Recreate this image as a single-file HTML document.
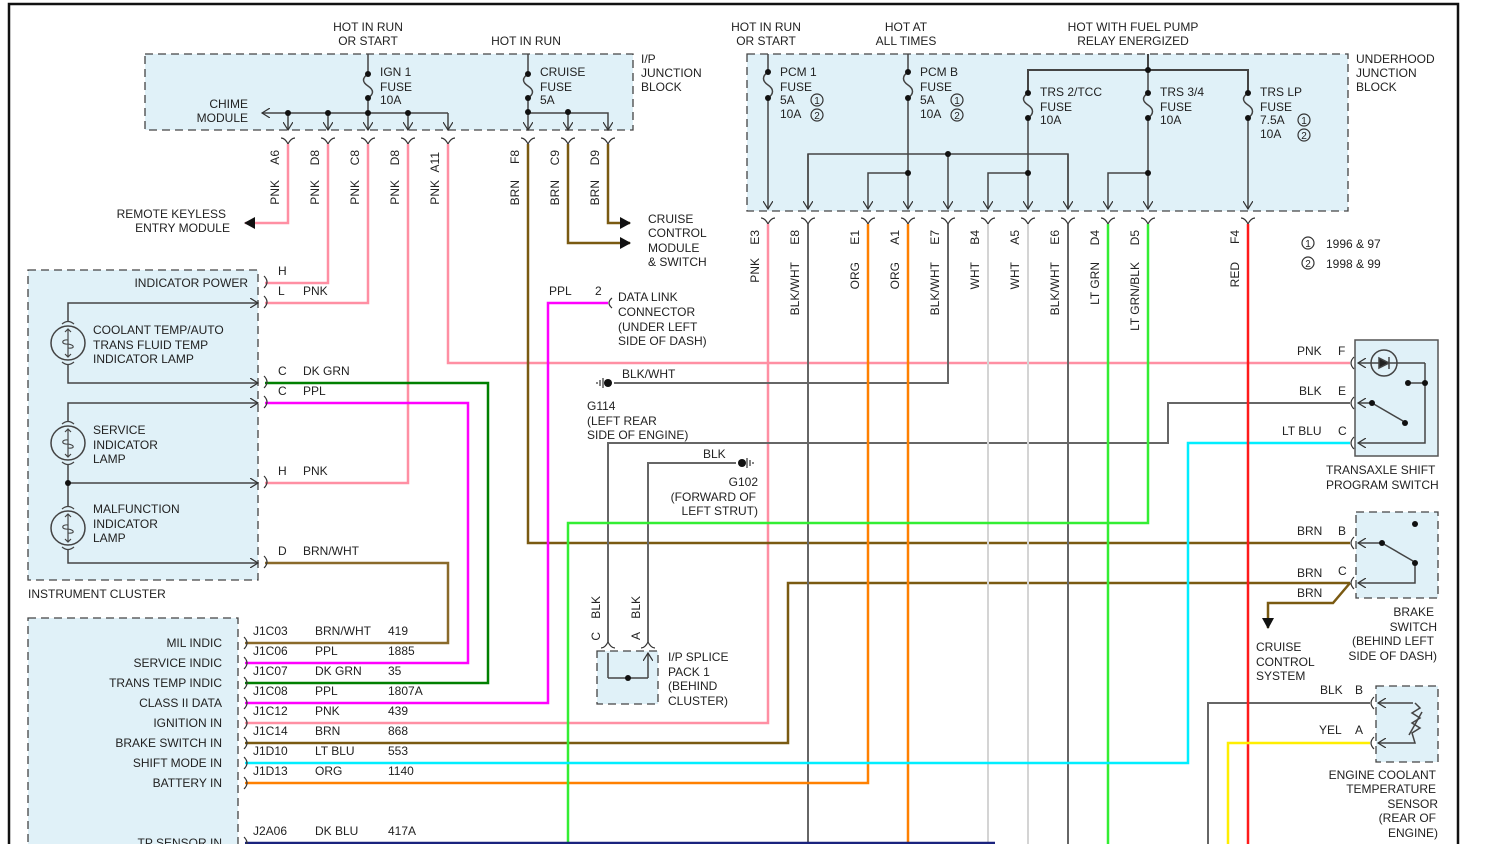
<!DOCTYPE html>
<html><head><meta charset="utf-8"><style>
html,body{margin:0;padding:0;background:#fff}
svg{display:block}
text{font-family:"Liberation Sans",sans-serif;font-size:12px;fill:#222}
.w{fill:none;stroke-width:2.5}
.k{fill:none;stroke:#444;stroke-width:1.5}
.box{fill:#e0f1f8;stroke:#444;stroke-width:1.3;stroke-dasharray:8,5}
.c{fill:none;stroke:#333;stroke-width:1.2}
</style></head><body>
<svg width="1498" height="844" viewBox="0 0 1498 844" xmlns="http://www.w3.org/2000/svg">
<defs>
<marker id="a" markerWidth="10" markerHeight="10" refX="8" refY="5" orient="auto" markerUnits="userSpaceOnUse"><path d="M0,0 L8,5 L0,10" fill="none" stroke="#333" stroke-width="1.2"/></marker>
<marker id="f" markerWidth="14" markerHeight="14" refX="10" refY="6" orient="auto" markerUnits="userSpaceOnUse"><path d="M0,0 L11,6 L0,12Z" fill="#111"/></marker>
</defs>
<path d="M9,844 V4 H1458 V844" fill="none" stroke="#111" stroke-width="2.5"/>

<rect class="box" x="145" y="54" width="488" height="76"/>
<rect class="box" x="747" y="54" width="601" height="157"/>
<rect class="box" x="28" y="270" width="230" height="310"/>
<rect class="box" x="28" y="618" width="210" height="240"/>
<rect class="box" x="597" y="651" width="61" height="53"/>
<rect x="1355" y="340" width="83" height="116" fill="#e0f1f8" stroke="#555" stroke-width="1.5"/>
<rect class="box" x="1356" y="512" width="82" height="86"/>
<rect class="box" x="1376" y="686" width="62" height="76"/>

<g text-anchor="middle">
<text x="368" y="31">HOT IN RUN</text><text x="368" y="45">OR START</text>
<text x="526" y="45">HOT IN RUN</text>
<text x="766" y="31">HOT IN RUN</text><text x="766" y="45">OR START</text>
<text x="906" y="31">HOT AT</text><text x="906" y="45">ALL TIMES</text>
<text x="1133" y="31">HOT WITH FUEL PUMP</text><text x="1133" y="45">RELAY ENERGIZED</text>
</g>
<text x="641" y="63">I/P</text><text x="641" y="77">JUNCTION</text><text x="641" y="91">BLOCK</text>
<text x="1356" y="63">UNDERHOOD</text><text x="1356" y="77">JUNCTION</text><text x="1356" y="91">BLOCK</text>

<g class="k">
<path d="M368,54 V74 M368,98 V130" marker-end="url(#a)"/>
<path d="M368,74 c-6,4 -6,8 0,12 c6,4 6,8 0,12"/>
<path d="M448,113 H262" marker-end="url(#a)"/>
<path d="M448,113 V130" marker-end="url(#a)"/>
<path d="M288,113 V130" marker-end="url(#a)"/>
<path d="M328,113 V130" marker-end="url(#a)"/>
<path d="M408,113 V130" marker-end="url(#a)"/>
<path d="M528,54 V74 M528,98 V130" marker-end="url(#a)"/>
<path d="M528,74 c-6,4 -6,8 0,12 c6,4 6,8 0,12"/>
<path d="M528,113 H608 V130" marker-end="url(#a)"/>
<path d="M568,113 V130" marker-end="url(#a)"/>
</g>
<g fill="#111"><circle cx="368" cy="74" r="3"/><circle cx="368" cy="98" r="3"/><circle cx="288" cy="113" r="3"/><circle cx="328" cy="113" r="3"/><circle cx="368" cy="113" r="3"/><circle cx="408" cy="113" r="3"/>
<circle cx="528" cy="74" r="3"/><circle cx="528" cy="98" r="3"/><circle cx="528" cy="112" r="3"/><circle cx="568" cy="112" r="3"/></g>
<text x="380" y="76">IGN 1</text><text x="380" y="91">FUSE</text><text x="380" y="104">10A</text>
<text x="540" y="76">CRUISE</text><text x="540" y="91">FUSE</text><text x="540" y="104">5A</text>
<text x="248" y="108" text-anchor="end">CHIME</text><text x="248" y="122" text-anchor="end">MODULE</text>

<g class="k">
<path d="M768,54 V72 M768,98 V209" marker-end="url(#a)"/>
<path d="M768,72 c-6,4 -6,9 0,13 c6,4 6,9 0,13"/>
<path d="M908,54 V72 M908,98 V209" marker-end="url(#a)"/>
<path d="M908,72 c-6,4 -6,9 0,13 c6,4 6,9 0,13"/>
<path d="M1148,54 V70 M1028,93 V70 H1248 V93" stroke-width="2"/>
<path d="M1028,93 c-6,4 -6,8 0,12 c6,4 6,9 0,13 M1148,93 c-6,4 -6,8 0,12 c6,4 6,9 0,13 M1248,93 c-6,4 -6,8 0,12 c6,4 6,9 0,13"/>
<path d="M1148,70 V93 M1028,118 V209" marker-end="url(#a)"/>
<path d="M1148,118 V209" marker-end="url(#a)"/>
<path d="M1248,118 V209" marker-end="url(#a)"/>
<path d="M808,209 V154 H1068 V209" />
<path d="M808,154 V209" marker-end="url(#a)"/>
<path d="M1068,154 V209" marker-end="url(#a)"/>
<path d="M948,154 V209" marker-end="url(#a)"/>
<path d="M908,173 H868 V209" marker-end="url(#a)"/>
<path d="M1028,173 H988 V209" marker-end="url(#a)"/>
<path d="M1148,173 H1108 V209" marker-end="url(#a)"/>
</g>
<g fill="#111"><circle cx="768" cy="72" r="3"/><circle cx="768" cy="98" r="3"/><circle cx="908" cy="72" r="3"/><circle cx="908" cy="98" r="3"/>
<circle cx="1028" cy="93" r="3"/><circle cx="1028" cy="118" r="3"/><circle cx="1148" cy="93" r="3"/><circle cx="1148" cy="118" r="3"/><circle cx="1248" cy="93" r="3"/><circle cx="1248" cy="118" r="3"/>
<circle cx="1148" cy="70" r="3"/><circle cx="948" cy="154" r="3"/><circle cx="908" cy="173" r="3"/><circle cx="1028" cy="173" r="3"/><circle cx="1148" cy="173" r="3"/></g>
<text x="780" y="76">PCM 1</text><text x="780" y="91">FUSE</text><text x="780" y="104">5A</text><text x="780" y="118">10A</text>
<text x="920" y="76">PCM B</text><text x="920" y="91">FUSE</text><text x="920" y="104">5A</text><text x="920" y="118">10A</text>
<text x="1040" y="96">TRS 2/TCC</text><text x="1040" y="111">FUSE</text><text x="1040" y="124">10A</text>
<text x="1160" y="96">TRS 3/4</text><text x="1160" y="111">FUSE</text><text x="1160" y="124">10A</text>
<text x="1260" y="96">TRS LP</text><text x="1260" y="111">FUSE</text><text x="1260" y="124">7.5A</text><text x="1260" y="138">10A</text>
<g class="c"><circle cx="817" cy="100" r="6"/><circle cx="817" cy="115" r="6"/><circle cx="957" cy="100" r="6"/><circle cx="957" cy="115" r="6"/><circle cx="1304" cy="120" r="6"/><circle cx="1304" cy="135" r="6"/><circle cx="1308" cy="243" r="6"/><circle cx="1308" cy="263" r="6"/></g>
<g text-anchor="middle"><text x="817" y="104" style="font-size:10px">1</text><text x="817" y="119" style="font-size:10px">2</text><text x="957" y="104" style="font-size:10px">1</text><text x="957" y="119" style="font-size:10px">2</text><text x="1304" y="124" style="font-size:10px">1</text><text x="1304" y="139" style="font-size:10px">2</text><text x="1308" y="247" style="font-size:10px">1</text><text x="1308" y="267" style="font-size:10px">2</text></g>
<text x="1326" y="248">1996 &amp; 97</text><text x="1326" y="268">1998 &amp; 99</text>

<g class="c">
<path d="M281,138 q4,0 7,6 q3,-6 7,-6 M321,138 q4,0 7,6 q3,-6 7,-6 M361,138 q4,0 7,6 q3,-6 7,-6 M401,138 q4,0 7,6 q3,-6 7,-6 M441,138 q4,0 7,6 q3,-6 7,-6 M521,138 q4,0 7,6 q3,-6 7,-6 M561,138 q4,0 7,6 q3,-6 7,-6 M601,138 q4,0 7,6 q3,-6 7,-6"/>
<path d="M761,218 q4,0 7,6 q3,-6 7,-6 M801,218 q4,0 7,6 q3,-6 7,-6 M861,218 q4,0 7,6 q3,-6 7,-6 M901,218 q4,0 7,6 q3,-6 7,-6 M941,218 q4,0 7,6 q3,-6 7,-6 M981,218 q4,0 7,6 q3,-6 7,-6 M1021,218 q4,0 7,6 q3,-6 7,-6 M1061,218 q4,0 7,6 q3,-6 7,-6 M1101,218 q4,0 7,6 q3,-6 7,-6 M1141,218 q4,0 7,6 q3,-6 7,-6 M1241,218 q4,0 7,6 q3,-6 7,-6"/>
<path d="M601,648 q4,0 7,-6 q3,6 7,6 M641,648 q4,0 7,-6 q3,6 7,6"/>
</g>

<g text-anchor="end">
<text transform="translate(279,150) rotate(-90)">A6</text><text transform="translate(279,180) rotate(-90)">PNK</text>
<text transform="translate(319,150) rotate(-90)">D8</text><text transform="translate(319,180) rotate(-90)">PNK</text>
<text transform="translate(359,150) rotate(-90)">C8</text><text transform="translate(359,180) rotate(-90)">PNK</text>
<text transform="translate(399,150) rotate(-90)">D8</text><text transform="translate(399,180) rotate(-90)">PNK</text>
<text transform="translate(439,152) rotate(-90)">A11</text><text transform="translate(439,180) rotate(-90)">PNK</text>
<text transform="translate(519,150) rotate(-90)">F8</text><text transform="translate(519,180) rotate(-90)">BRN</text>
<text transform="translate(559,150) rotate(-90)">C9</text><text transform="translate(559,180) rotate(-90)">BRN</text>
<text transform="translate(599,150) rotate(-90)">D9</text><text transform="translate(599,180) rotate(-90)">BRN</text>
<text transform="translate(759,230) rotate(-90)">E3</text><text transform="translate(759,258) rotate(-90)">PNK</text>
<text transform="translate(799,230) rotate(-90)">E8</text><text transform="translate(799,262) rotate(-90)">BLK/WHT</text>
<text transform="translate(859,230) rotate(-90)">E1</text><text transform="translate(859,262) rotate(-90)">ORG</text>
<text transform="translate(899,230) rotate(-90)">A1</text><text transform="translate(899,262) rotate(-90)">ORG</text>
<text transform="translate(939,230) rotate(-90)">E7</text><text transform="translate(939,262) rotate(-90)">BLK/WHT</text>
<text transform="translate(979,230) rotate(-90)">B4</text><text transform="translate(979,262) rotate(-90)">WHT</text>
<text transform="translate(1019,230) rotate(-90)">A5</text><text transform="translate(1019,262) rotate(-90)">WHT</text>
<text transform="translate(1059,230) rotate(-90)">E6</text><text transform="translate(1059,262) rotate(-90)">BLK/WHT</text>
<text transform="translate(1099,230) rotate(-90)">D4</text><text transform="translate(1099,262) rotate(-90)">LT GRN</text>
<text transform="translate(1139,230) rotate(-90)">D5</text><text transform="translate(1139,262) rotate(-90)">LT GRN/BLK</text>
<text transform="translate(1239,230) rotate(-90)">F4</text><text transform="translate(1239,262) rotate(-90)">RED</text>
<text transform="translate(600,596) rotate(-90)">BLK</text><text transform="translate(600,632) rotate(-90)">C</text>
<text transform="translate(640,596) rotate(-90)">BLK</text><text transform="translate(640,632) rotate(-90)">A</text>
</g>

<g class="w">
<path stroke="#ff8fa3" d="M288,144 V223 H245" marker-end="url(#f)"/>
<path stroke="#ff8fa3" d="M328,144 V283 H265"/>
<path stroke="#ff8fa3" d="M368,144 V303 H265"/>
<path stroke="#ff8fa3" d="M408,144 V483 H265"/>
<path stroke="#ff8fa3" d="M448,144 V363 H1350"/>
<path stroke="#ff8fa3" d="M768,224 V723 H245"/>
<path stroke="#7a5a12" d="M528,144 V543 H1350"/>
<path stroke="#7a5a12" d="M568,144 V243 H630" marker-end="url(#f)"/>
<path stroke="#7a5a12" d="M608,144 V223 H630" marker-end="url(#f)"/>
<path stroke="#7a5a12" d="M1350,583 H788 V743 H245"/>
<path stroke="#7a5a12" d="M1350,583 L1333,603 H1268 V628" marker-end="url(#f)"/>
<path stroke="#8a6a2a" d="M265,563 H448 V643 H245"/>
<path stroke="#008000" d="M265,383 H488 V683 H245"/>
<path stroke="#ff00ff" d="M265,403 H468 V663 H245"/>
<path stroke="#ff00ff" d="M245,703 H548 V303 H608"/>
<path stroke="#666" stroke-width="2" d="M808,224 V844"/>
<path stroke="#666" stroke-width="2" d="M948,224 V383 H614"/>
<path stroke="#666" stroke-width="2" d="M1068,224 V844"/>
<path stroke="#666" stroke-width="2" d="M1350,403 H1168 V443 H608 V642"/>
<path stroke="#666" stroke-width="2" d="M736,463 H648 V642"/>
<path stroke="#666" stroke-width="2" d="M1370,703 H1208 V844"/>
<path stroke="#d4d4d4" stroke-width="2" d="M988,224 V844 M1028,224 V844"/>
<path stroke="#ff8000" d="M868,224 V783 H245"/>
<path stroke="#ff8000" d="M908,224 V844"/>
<path stroke="#33ee33" d="M1108,224 V844"/>
<path stroke="#33ee33" d="M1148,224 V523 H568 V844"/>
<path stroke="#00eeff" d="M1350,443 H1188 V763 H245"/>
<path stroke="#ff1a1a" d="M1248,224 V844"/>
<path stroke="#ffee00" d="M1370,743 H1228 V844"/>
<path stroke="#1a237e" d="M245,843 H995"/>
</g>

<text x="226" y="218" text-anchor="end">REMOTE KEYLESS</text><text x="230" y="232" text-anchor="end">ENTRY MODULE</text>
<text x="648" y="223">CRUISE</text><text x="648" y="237">CONTROL</text><text x="648" y="252">MODULE</text><text x="648" y="266">&amp; SWITCH</text>

<path class="c" d="M612,298 q-6,5 0,10"/>
<text x="549" y="295">PPL</text><text x="595" y="295">2</text>
<text x="618" y="301">DATA LINK</text><text x="618" y="316">CONNECTOR</text><text x="618" y="331">(UNDER LEFT</text><text x="618" y="345">SIDE OF DASH)</text>
<circle cx="608" cy="383" r="4" fill="#111"/><path d="M603,378 v10 M600,380 v6 M597,382 v2" stroke="#333" stroke-width="1.2"/>
<text x="622" y="378">BLK/WHT</text>
<text x="587" y="410">G114</text><text x="587" y="425">(LEFT REAR</text><text x="587" y="439">SIDE OF ENGINE)</text>
<circle cx="742" cy="463" r="4" fill="#111"/><path d="M747,458 v10 M750,460 v6 M753,462 v2" stroke="#333" stroke-width="1.2"/>
<text x="703" y="458">BLK</text>
<text x="758" y="486" text-anchor="end">G102</text><text x="756" y="501" text-anchor="end">(FORWARD OF</text><text x="758" y="515" text-anchor="end">LEFT STRUT)</text>
<path class="k" d="M608,678 V653 M648,678 V653" marker-end="url(#a)"/>
<path class="k" d="M608,678 H648" stroke-width="2"/><circle cx="628" cy="678" r="3" fill="#111"/>
<text x="668" y="661">I/P SPLICE</text><text x="668" y="676">PACK 1</text><text x="668" y="690">(BEHIND</text><text x="668" y="705">CLUSTER)</text>

<text x="248" y="287" text-anchor="end">INDICATOR POWER</text>
<g class="k" stroke="#555">
<path d="M68,322 V303 H258" marker-end="url(#a)"/>
<path d="M68,364 V383 H258" marker-end="url(#a)"/>
<path d="M68,422 V403 H258" marker-end="url(#a)"/>
<path d="M68,464 V507 M68,483 H258" marker-end="url(#a)"/>
<path d="M68,549 V563 H258" marker-end="url(#a)"/>
<circle cx="68" cy="343" r="17"/><circle cx="68" cy="443" r="17"/><circle cx="68" cy="528" r="17"/>
<path d="M62,324 q6,-5 12,0 M62,362 q6,5 12,0 M62,424 q6,-5 12,0 M62,462 q6,5 12,0 M62,509 q6,-5 12,0 M62,547 q6,5 12,0" stroke-width="1.2"/>
<path d="M68,329 V357 M65,332 l3,-3 3,3 M65,354 l3,3 3,-3 M68,429 V457 M65,432 l3,-3 3,3 M65,454 l3,3 3,-3 M68,514 V542 M65,517 l3,-3 3,3 M65,539 l3,3 3,-3" stroke-width="1.2"/>
<path d="M68,340 c-7,-1 -7,5 0,4 c7,1 7,5 0,4 M68,440 c-7,-1 -7,5 0,4 c7,1 7,5 0,4 M68,525 c-7,-1 -7,5 0,4 c7,1 7,5 0,4" stroke-width="1.1"/>
</g>
<circle cx="68" cy="483" r="3" fill="#111"/>
<text x="93" y="334">COOLANT TEMP/AUTO</text><text x="93" y="349">TRANS FLUID TEMP</text><text x="93" y="363">INDICATOR LAMP</text>
<text x="93" y="434">SERVICE</text><text x="93" y="449">INDICATOR</text><text x="93" y="463">LAMP</text>
<text x="93" y="513">MALFUNCTION</text><text x="93" y="528">INDICATOR</text><text x="93" y="542">LAMP</text>
<text x="28" y="598">INSTRUMENT CLUSTER</text>
<g class="c"><path d="M264,276 q6,6 0,12 M264,296 q6,6 0,12 M264,376 q6,6 0,12 M264,396 q6,6 0,12 M264,476 q6,6 0,12 M264,556 q6,6 0,12"/></g>
<text x="278" y="275">H</text>
<text x="278" y="295">L</text><text x="303" y="295">PNK</text>
<text x="278" y="375">C</text><text x="303" y="375">DK GRN</text>
<text x="278" y="395">C</text><text x="303" y="395">PPL</text>
<text x="278" y="475">H</text><text x="303" y="475">PNK</text>
<text x="278" y="555">D</text><text x="303" y="555">BRN/WHT</text>

<g text-anchor="end">
<text x="222" y="647">MIL INDIC</text><text x="222" y="667">SERVICE INDIC</text><text x="222" y="687">TRANS TEMP INDIC</text><text x="222" y="707">CLASS II DATA</text>
<text x="222" y="727">IGNITION IN</text><text x="222" y="747">BRAKE SWITCH IN</text><text x="222" y="767">SHIFT MODE IN</text><text x="222" y="787">BATTERY IN</text><text x="222" y="847">TP SENSOR IN</text>
</g>
<g class="c"><path d="M244,637 q6,6 0,12 M244,657 q6,6 0,12 M244,677 q6,6 0,12 M244,697 q6,6 0,12 M244,717 q6,6 0,12 M244,737 q6,6 0,12 M244,757 q6,6 0,12 M244,777 q6,6 0,12 M244,837 q6,6 0,12"/></g>
<text x="253" y="635">J1C03</text><text x="315" y="635">BRN/WHT</text><text x="388" y="635">419</text>
<text x="253" y="655">J1C06</text><text x="315" y="655">PPL</text><text x="388" y="655">1885</text>
<text x="253" y="675">J1C07</text><text x="315" y="675">DK GRN</text><text x="388" y="675">35</text>
<text x="253" y="695">J1C08</text><text x="315" y="695">PPL</text><text x="388" y="695">1807A</text>
<text x="253" y="715">J1C12</text><text x="315" y="715">PNK</text><text x="388" y="715">439</text>
<text x="253" y="735">J1C14</text><text x="315" y="735">BRN</text><text x="388" y="735">868</text>
<text x="253" y="755">J1D10</text><text x="315" y="755">LT BLU</text><text x="388" y="755">553</text>
<text x="253" y="775">J1D13</text><text x="315" y="775">ORG</text><text x="388" y="775">1140</text>
<text x="253" y="835">J2A06</text><text x="315" y="835">DK BLU</text><text x="388" y="835">417A</text>

<g class="c"><path d="M1354,357 q-6,6 0,12 M1354,397 q-6,6 0,12 M1354,437 q-6,6 0,12"/></g>
<text x="1297" y="355">PNK</text><text x="1338" y="355">F</text>
<text x="1299" y="395">BLK</text><text x="1338" y="395">E</text>
<text x="1282" y="435">LT BLU</text><text x="1338" y="435">C</text>
<g class="k" stroke="#555">
<path d="M1425,363 H1358" marker-end="url(#a)"/>
<path d="M1425,363 V443 H1358" marker-end="url(#a)"/>
<path d="M1372,403 H1358" marker-end="url(#a)"/>
<path d="M1372,403 L1403,421"/>
<path d="M1408,383 H1425"/>
<circle cx="1384" cy="363" r="13"/>
<path d="M1379,358 V368 L1389,363Z M1389,357 V369" fill="#222"/>
</g>
<g fill="#111"><circle cx="1372" cy="403" r="3"/><circle cx="1405" cy="423" r="3"/><circle cx="1408" cy="383" r="3"/><circle cx="1425" cy="383" r="3"/></g>
<text x="1326" y="474">TRANSAXLE SHIFT</text><text x="1326" y="489">PROGRAM SWITCH</text>

<g class="c"><path d="M1354,537 q-6,6 0,12 M1354,577 q-6,6 0,12"/></g>
<text x="1297" y="535">BRN</text><text x="1338" y="535">B</text>
<text x="1297" y="577">BRN</text><text x="1338" y="575">C</text>
<text x="1297" y="597">BRN</text>
<g class="k" stroke="#555">
<path d="M1382,543 H1358" marker-end="url(#a)"/>
<path d="M1382,543 L1413,561"/>
<path d="M1415,563 V583 H1358" marker-end="url(#a)"/>
</g>
<g fill="#111"><circle cx="1382" cy="543" r="3"/><circle cx="1415" cy="563" r="3"/><circle cx="1415" cy="524" r="3"/></g>
<text x="1434" y="616" text-anchor="end">BRAKE</text><text x="1437" y="631" text-anchor="end">SWITCH</text><text x="1434" y="645" text-anchor="end">(BEHIND LEFT</text><text x="1437" y="660" text-anchor="end">SIDE OF DASH)</text>
<text x="1256" y="651">CRUISE</text><text x="1256" y="666">CONTROL</text><text x="1256" y="680">SYSTEM</text>

<g class="c"><path d="M1374,697 q-6,6 0,12 M1374,737 q-6,6 0,12"/></g>
<text x="1320" y="694">BLK</text><text x="1355" y="694">B</text>
<text x="1319" y="734">YEL</text><text x="1355" y="734">A</text>
<g class="k" stroke="#555">
<path d="M1413,703 H1378" marker-end="url(#a)"/>
<path d="M1415,703 l5,5 -8,5 8,5 -8,5 8,5 -8,5 3,10 H1378" marker-end="url(#a)"/>
<path d="M1409,735 L1422,712"/>
</g>
<text x="1436" y="779" text-anchor="end">ENGINE COOLANT</text><text x="1436" y="793" text-anchor="end">TEMPERATURE</text><text x="1438" y="808" text-anchor="end">SENSOR</text><text x="1436" y="822" text-anchor="end">(REAR OF</text><text x="1438" y="837" text-anchor="end">ENGINE)</text>
</svg>
</body></html>
